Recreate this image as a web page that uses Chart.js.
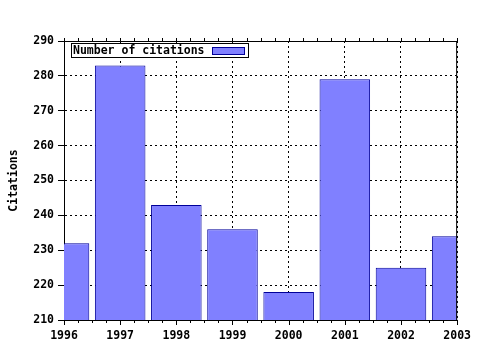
<!DOCTYPE html>
<html><head><meta charset="utf-8">
<script src="https://cdn.jsdelivr.net/npm/chart.js@4/dist/chart.umd.min.js"></script>
<style>html,body{margin:0;padding:0;background:#fff}#wrap{width:480px;height:350px}</style>
</head><body><div id="wrap"><canvas id="c" width="480" height="350"></canvas></div>
<script>
const years = ['1996','1997','1998','1999','2000','2001','2002','2003'];
const citations = [232, 283, 243, 236, 218, 279, 225, 234];
const seriesLabel = 'Number of citations';
const yTitle = 'Citations';
const yMin = 210, yMax = 290, yStep = 10;

const FONT = "'DejaVu Sans Mono', monospace";
const fill = '#8080ff', edge = '#000099';

const framePlugin = {
  id: 'frame',
  afterDatasetsDraw(chart) {
    const {ctx, chartArea: a, scales: {x}} = chart;
    ctx.save();
    ctx.strokeStyle = '#000'; ctx.lineWidth = 1; ctx.setLineDash([]);
    ctx.beginPath();
    ctx.moveTo(a.left, a.top + 0.5); ctx.lineTo(a.right, a.top + 0.5);
    ctx.moveTo(a.right - 0.5, a.top); ctx.lineTo(a.right - 0.5, a.bottom);
    for (let i = 0; i < years.length; i++) {
      for (let k = 0; k < 4; k++) {
        if (i === years.length - 1 && k > 0) break;
        const p0 = x.getPixelForValue(i), p1 = i < years.length - 1 ? x.getPixelForValue(i + 1) : p0;
        const px = Math.round(p0 + (p1 - p0) * k / 4) + 0.5;
        const len = k === 0 ? 5 : 3;
        ctx.moveTo(px, a.top); ctx.lineTo(px, a.top - 3);
        ctx.moveTo(px, a.bottom); ctx.lineTo(px, a.bottom + len);
      }
    }
    ctx.stroke();
    const lx = a.left + 7, ly = a.top + 2, lw = 177, lh = 14;
    ctx.fillStyle = '#fff';
    ctx.fillRect(lx, ly, lw, lh);
    ctx.strokeRect(lx + 0.5, ly + 0.5, lw, lh);
    ctx.fillStyle = '#000';
    ctx.font = "bold 11.5px " + FONT;
    ctx.textBaseline = 'middle';
    ctx.fillText(seriesLabel, lx + 2, ly + lh / 2 + 1);
    ctx.fillStyle = fill;
    ctx.fillRect(lx + 141, ly + 4, 32, 7);
    ctx.strokeStyle = edge;
    ctx.strokeRect(lx + 141.5, ly + 4.5, 32, 7);
    ctx.restore();
  }
};

new Chart(document.getElementById('c'), {
  type: 'bar',
  data: {
    labels: years,
    datasets: [{
      label: seriesLabel,
      data: citations,
      backgroundColor: fill,
      borderColor: edge,
      borderWidth: 1,
      borderSkipped: 'bottom',
      categoryPercentage: 0.9,
      barPercentage: 1
    }]
  },
  options: {
    responsive: false,
    animation: false,
    layout: {padding: {left: 0, top: 41, right: 21, bottom: 0}},
    plugins: {legend: {display: false}, tooltip: {enabled: false}},
    scales: {
      x: {
        offset: false,
        grid: {offset: false, color: '#000', drawTicks: false},
        border: {display: true, color: '#000', width: 1, dash: [2, 3]},
        ticks: {color: '#000', font: {family: FONT, size: 11.5, weight: 'bold'}, padding: 9, maxRotation: 0, autoSkip: false},
        afterFit(s) { s.height = 30; }
      },
      y: {
        min: yMin, max: yMax,
        grid: {color: '#000', tickLength: 6, tickBorderDash: [], tickColor: '#000'},
        border: {display: true, color: '#000', width: 1, dash: [2, 3]},
        ticks: {stepSize: yStep, color: '#000', font: {family: FONT, size: 11.5, weight: 'bold'}, padding: 4},
        title: {display: true, text: yTitle, color: '#000', font: {family: FONT, size: 11.5, weight: 'bold'}, padding: {top: 7, bottom: 0}},
        afterFit(s) { s.width = 64; }
      }
    }
  },
  plugins: [framePlugin]
});
</script>
</body></html>
